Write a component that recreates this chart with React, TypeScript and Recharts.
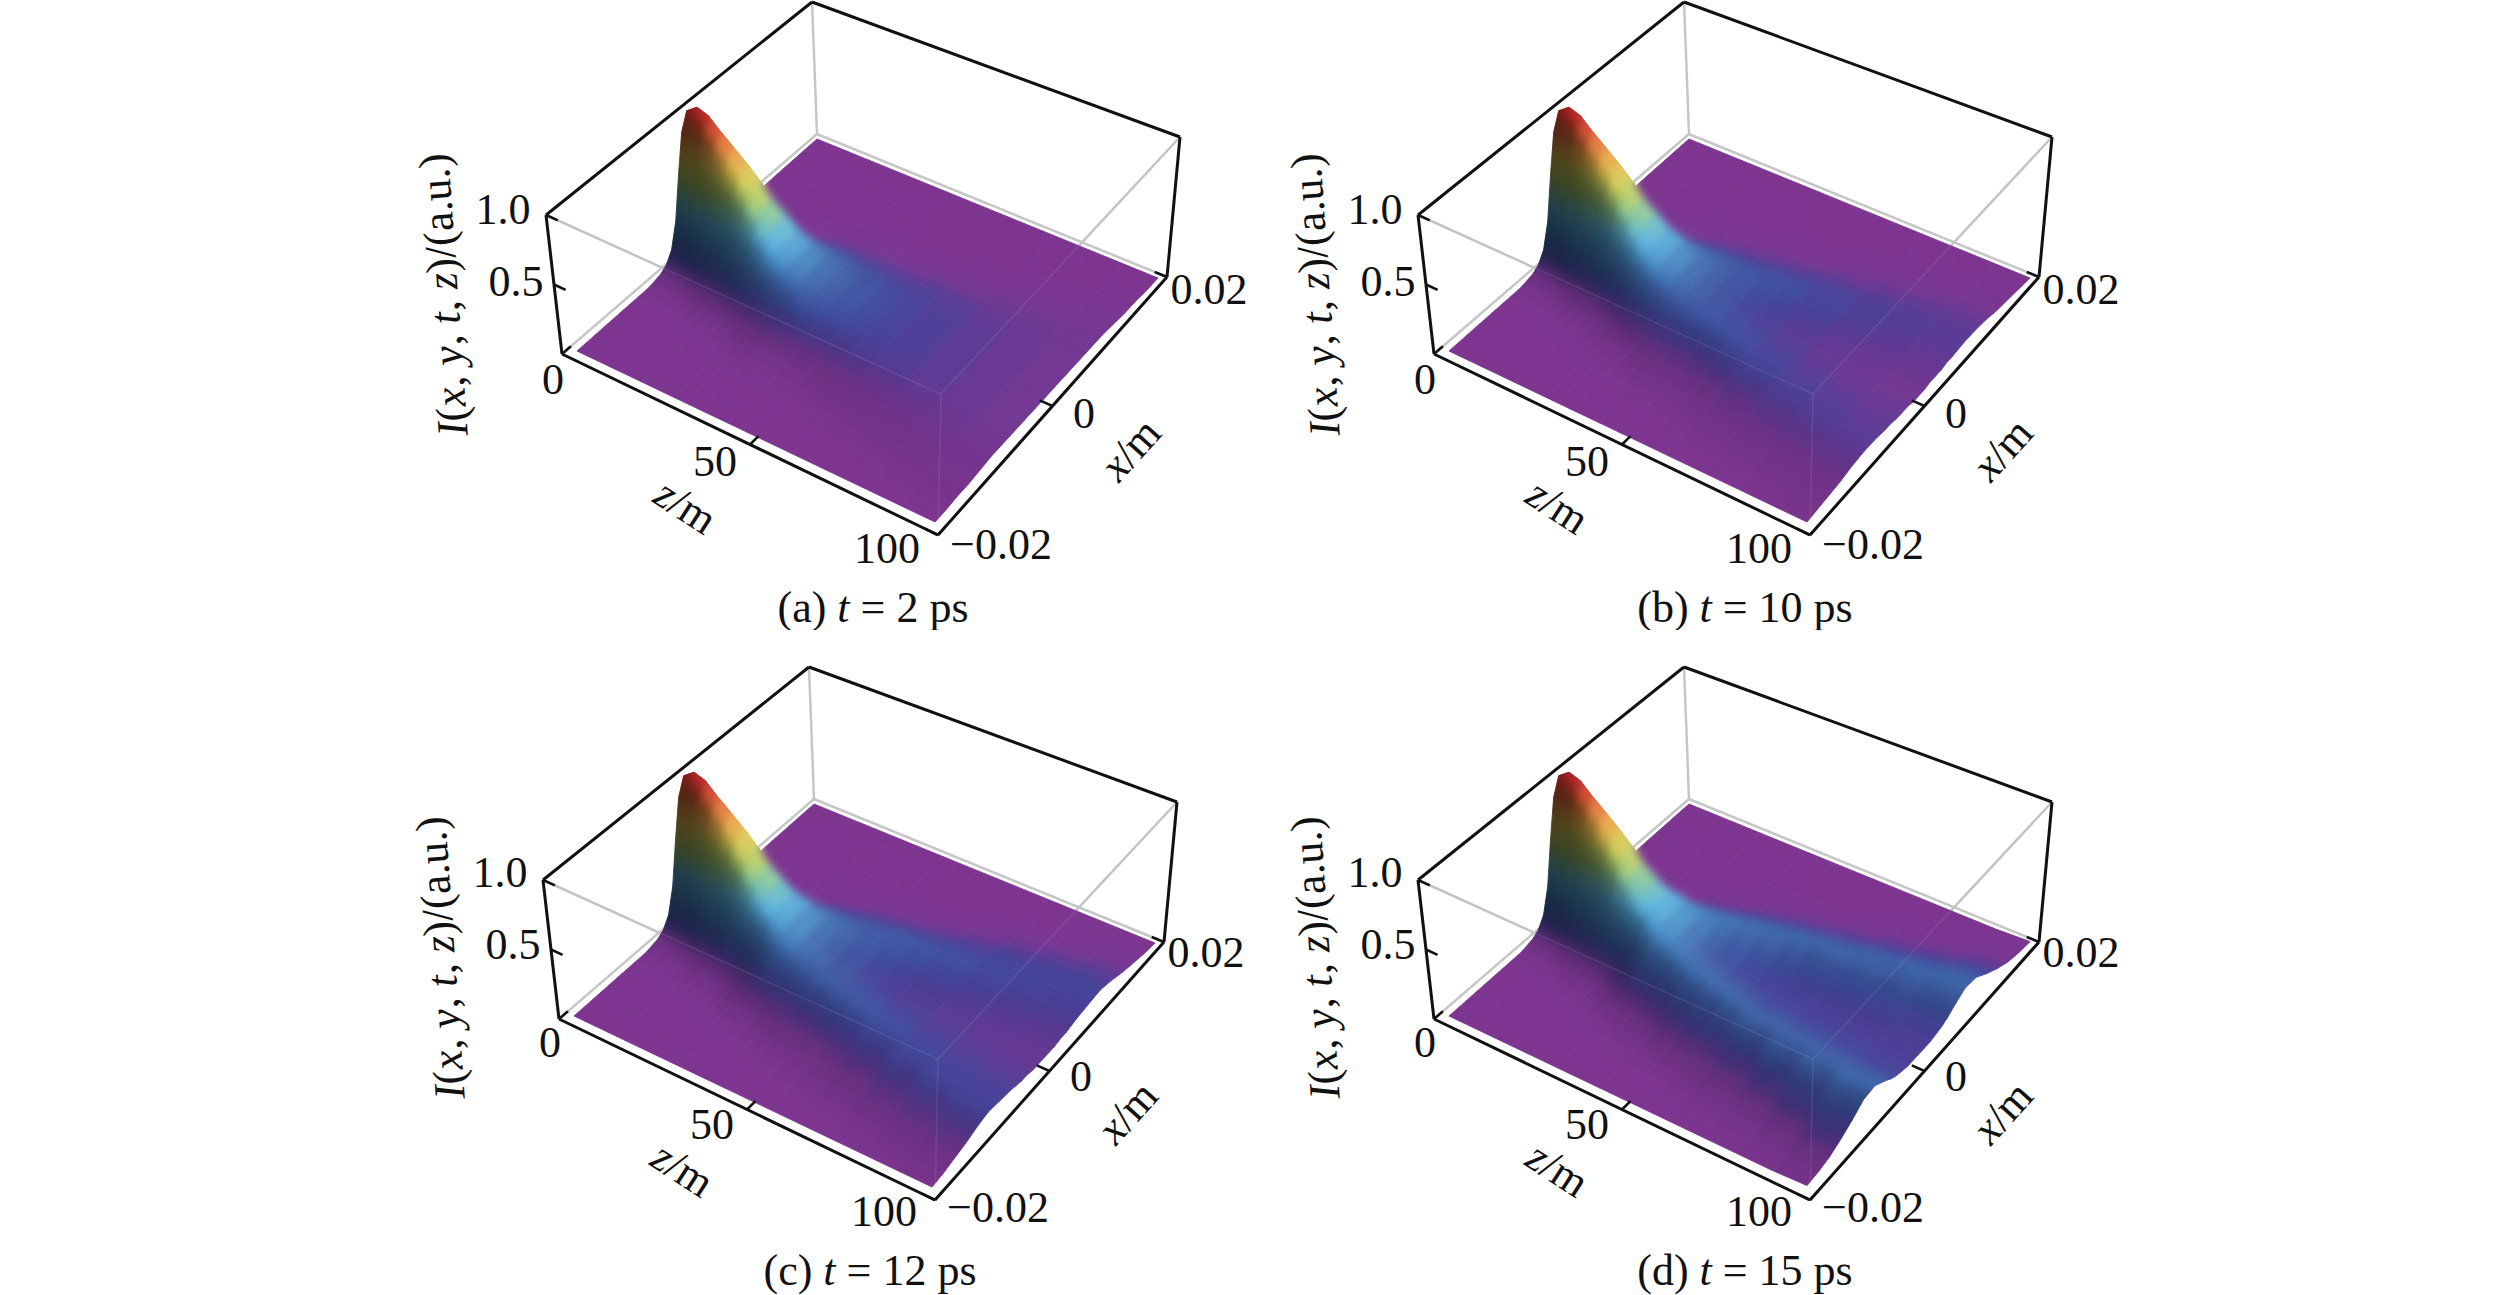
import { Scatter, ScatterChart, XAxis, YAxis } from "recharts";

const xHalf = [0, 0.001, 0.002, 0.003, 0.004, 0.005, 0.006, 0.008, 0.01, 0.012, 0.014, 0.016, 0.018, 0.02];
const zNear = [0, 3, 6, 9, 12, 15, 18, 21, 24];
const zFar = [27, 30, 34, 38, 42, 48, 54, 60, 70, 80, 90, 100];

const nearRows = [
  [99, 87, 59, 29, 12, 5, 2],
  [105, 90, 60, 31, 13, 5, 2],
  [102, 89, 62, 33, 15, 6, 2],
  [94, 84, 60, 34, 16, 7, 2],
  [85, 77, 57, 33, 17, 8, 3],
  [77, 70, 54, 33, 18, 9, 3, 1],
  [68, 62, 49, 32, 19, 10, 4, 1],
  [57, 53, 44, 31, 19, 11, 5, 1],
  [46, 44, 38, 28, 19, 12, 6, 1],
];

const farA = [
  [37, 36, 32, 25, 18, 12, 7, 2],
  [29, 28, 26, 22, 17, 12, 8, 2, 1],
  [23, 23, 21, 19, 16, 12, 8, 3, 1],
  [19, 19, 18, 16, 14, 11, 8, 3, 1],
  [16, 16, 15, 14, 12, 10, 8, 3, 1],
  [13, 13, 12, 12, 11, 9, 7, 3, 1],
  [11, 11, 11, 10, 9, 8, 7, 4, 2],
  [9, 9, 9, 9, 8, 8, 7, 4, 2, 1],
  [7, 7, 7, 7, 7, 6, 6, 4, 3, 1],
  [5, 5, 5, 5, 5, 5, 5, 4, 3, 2, 1],
  [4, 4, 4, 4, 4, 4, 4, 4, 3, 2, 1],
  [3, 3, 3, 3, 3, 3, 3, 3, 3, 2, 1, 1],
];
const farB = [
  [38, 37, 33, 26, 19, 13, 8, 2, 1],
  [30, 29, 27, 23, 18, 13, 9, 3, 1],
  [23, 23, 22, 20, 17, 14, 10, 4, 1],
  [18, 19, 19, 18, 16, 13, 10, 5, 2],
  [15, 16, 16, 16, 15, 13, 10, 5, 2, 1],
  [11, 12, 13, 14, 14, 13, 11, 6, 3, 1],
  [9, 10, 11, 12, 13, 13, 11, 7, 3, 1],
  [7, 8, 9, 10, 11, 12, 11, 8, 4, 2, 1],
  [5, 6, 6, 7, 8, 9, 9, 8, 5, 3, 1],
  [4, 5, 5, 5, 6, 7, 7, 8, 6, 4, 2, 1],
  [4, 4, 4, 5, 5, 6, 6, 7, 6, 4, 2, 1],
  [3, 3, 4, 4, 4, 5, 5, 6, 6, 5, 3, 2, 1],
];
const farC = [
  [39, 38, 34, 28, 21, 15, 9, 3, 1],
  [31, 30, 28, 25, 20, 15, 10, 3, 1],
  [23, 23, 23, 21, 19, 15, 11, 5, 1],
  [18, 19, 20, 20, 18, 15, 12, 6, 2],
  [15, 16, 17, 17, 17, 15, 13, 6, 3, 1],
  [11, 12, 13, 15, 16, 16, 14, 8, 3, 1],
  [9, 10, 11, 13, 14, 15, 14, 9, 4, 2],
  [8, 8, 9, 11, 12, 14, 14, 10, 5, 2, 1],
  [7, 7, 8, 9, 10, 11, 12, 11, 8, 4, 2],
  [5, 6, 6, 7, 8, 9, 10, 11, 9, 6, 3, 1],
  [5, 5, 6, 6, 7, 8, 9, 10, 10, 7, 4, 2, 1],
  [5, 5, 5, 6, 6, 7, 8, 9, 10, 8, 5, 3, 1],
];
const farD = [
  [40, 39, 36, 30, 23, 16, 10, 3, 1],
  [33, 32, 30, 27, 22, 17, 12, 4, 1],
  [25, 26, 26, 25, 22, 18, 13, 5, 2],
  [19, 20, 22, 23, 22, 19, 15, 7, 2, 1],
  [15, 17, 19, 21, 22, 20, 17, 9, 3, 1],
  [12, 13, 15, 18, 20, 20, 18, 11, 5, 2],
  [10, 11, 13, 15, 18, 20, 19, 13, 6, 3],
  [9, 10, 11, 13, 15, 18, 20, 15, 7, 3, 1],
  [9, 9, 10, 12, 14, 16, 18, 17, 10, 5, 2, 1],
  [8, 9, 10, 11, 13, 15, 18, 19, 13, 7, 3, 1],
  [8, 8, 9, 10, 11, 13, 16, 20, 16, 10, 5, 2, 1],
  [8, 8, 8, 9, 10, 12, 15, 20, 19, 13, 8, 4, 2, 1],
];

const zTicks = [0, 50, 100];
const xTicks = [-0.02, 0, 0.02];
const iTicks = [0.5, 1];
const zTickLabels = ["0", "50", "100"];
const xTickLabels = ["\u22120.02", "0", "0.02"];
const iTickLabels = ["0.5", "1.0"];
const captions = ["(a) ", "(b) ", "(c) ", "(d) "];
const times = ["2", "10", "12", "15"];

// page layout
const W = 900;
const H = 630;
const panelOffsets = [
  [0, 0],
  [872, 0],
  [-3, 665],
  [872, 665],
];
const textLift = [3, 3, 5, 5];
const ORIGIN_X = 400;
const FONT = 44;

// corners of the box, in page px of panel (a): [z=0 x-, z=100 x-, z=100 x+, z=0 x+]
const boxBottom = [[562, 354], [938, 535], [1167, 277], [817, 134]];
const boxTop = [[546, 215], [941, 394], [1180, 137], [812, 2]];
const floor = [[577, 351], [935, 522], [1158, 278], [817, 139]];

const zLabelPos = [[553, 382], [715, 464], [887, 551]];
const xLabelPos = [[1001, 547], [1084, 416], [1209, 292]];
const iLabelPos = [[516, 284], [503, 212]];

const bilerp = (c: number[][], u: number, v: number, k: number) =>
  (1 - u) * (1 - v) * c[0][k] + u * (1 - v) * c[1][k] + u * v * c[2][k] + (1 - u) * v * c[3][k];

// box position from fractions along z, x, height
const boxPoint = (u: number, v: number, w: number) => {
  const p = [0, 1].map((k) => bilerp(boxBottom, u, v, k) * (1 - w) + bilerp(boxTop, u, v, k) * w);
  return { sx: p[0] - ORIGIN_X, sy: p[1] };
};

const surfacePoint = (u: number, v: number, I: number) => {
  const p = [0, 1].map((k) => {
    const up = bilerp(boxTop, u, v, k) - bilerp(boxBottom, u, v, k);
    return bilerp(floor, u, v, k) + I * up;
  });
  return { sx: p[0] - ORIGIN_X, sy: p[1] };
};

const colorStops: number[][] = [
  [0, 125, 53, 144],
  [0.03, 118, 54, 146],
  [0.06, 92, 58, 148],
  [0.09, 72, 64, 152],
  [0.13, 62, 78, 158],
  [0.2, 62, 104, 172],
  [0.3, 75, 150, 205],
  [0.38, 90, 180, 222],
  [0.48, 125, 195, 165],
  [0.58, 175, 205, 105],
  [0.68, 215, 205, 85],
  [0.78, 235, 170, 70],
  [0.88, 228, 110, 55],
  [1, 205, 40, 40],
];

const colorOf = (I: number, g: number) => {
  let n = 1;
  while (n < colorStops.length - 1 && colorStops[n][0] < I) n++;
  const a = colorStops[n - 1];
  const b = colorStops[n];
  const t = Math.max(0, Math.min(1, (I - a[0]) / (b[0] - a[0])));
  let rgb = [1, 2, 3].map((k) => a[k] + (b[k] - a[k]) * t);
  if (g > 0) {
    // slope facing the viewer is in shade
    const s = 1 - 0.7 * (1 - Math.exp(-g / 4));
    rgb = rgb.map((c) => c * s);
  } else {
    const s = 0.12 * (1 - Math.exp(g / 4));
    rgb = rgb.map((c) => c + (255 - c) * s);
  }
  return `rgb(${rgb.map((c) => Math.round(c)).join(",")})`;
};

const xFull = [...xHalf.slice(1).reverse().map((x) => -x), ...xHalf];

function buildQuads(far: number[][], panel: number) {
  const zs = [...zNear, ...zFar];
  const rows = [...nearRows, ...far];
  const vs = xFull.map((x) => (x + 0.02) / 0.04);
  const grid = rows.map((row, i) =>
    xFull.map((x, j) => {
      const I = (row[xHalf.indexOf(Math.abs(x))] ?? 0) / 100;
      return { I, p: surfacePoint(zs[i] / 100, vs[j], I), g: 0 };
    }),
  );
  grid.forEach((row, i) =>
    row.forEach((c, j) => {
      const a = Math.max(0, j - 1);
      const b = Math.min(row.length - 1, j + 1);
      const i0 = Math.max(0, i - 1);
      const i1 = Math.min(grid.length - 1, i + 1);
      const gz = (grid[i1][j].I - grid[i0][j].I) / ((zs[i1] - zs[i0]) / 100);
      // light comes in from the far z end as well
      c.g = (row[b].I - row[a].I) / (vs[b] - vs[a]) + 1.8 * gz;
    }),
  );
  const quads: any[] = [];
  for (let i = 0; i < grid.length - 1; i++) {
    for (let j = xFull.length - 2; j >= 0; j--) {
      const c = [grid[i][j], grid[i][j + 1], grid[i + 1][j + 1], grid[i + 1][j]];
      const m0 = { x: (c[0].p.sx + c[3].p.sx) / 2, y: (c[0].p.sy + c[3].p.sy) / 2 };
      const m1 = { x: (c[1].p.sx + c[2].p.sx) / 2, y: (c[1].p.sy + c[2].p.sy) / 2 };
      const ex = c[3].p.sx - c[0].p.sx;
      const ey = c[3].p.sy - c[0].p.sy;
      const len = Math.hypot(ex, ey) || 1;
      const nx = -ey / len;
      const ny = ex / len;
      const d = (m1.x - m0.x) * nx + (m1.y - m0.y) * ny;
      const I0 = (c[0].I + c[3].I) / 2;
      const I1 = (c[1].I + c[2].I) / 2;
      const g0 = (c[0].g + c[3].g) / 2;
      const g1 = (c[1].g + c[2].g) / 2;
      quads.push({
        id: `q${panel}-${i}-${j}`,
        sx: c[0].p.sx,
        sy: c[0].p.sy,
        pts: c.map((q) => [q.p.sx, q.p.sy]),
        grad: [m0.x, m0.y, m0.x + nx * d, m0.y + ny * d],
        stops: [0, 0.25, 0.5, 0.75, 1].map((t) =>
          colorOf(I0 + (I1 - I0) * t, g0 + (g1 - g0) * t),
        ),
      });
    }
  }
  return quads;
}

const QuadShape = (props: any) => {
  const { cx, cy, payload } = props;
  const ox = cx - payload.sx;
  const oy = cy - payload.sy;
  const [x1, y1, x2, y2] = payload.grad;
  const d = payload.pts.map((p: number[], i: number) => `${i ? "L" : "M"}${p[0] + ox} ${p[1] + oy}`).join("") + "Z";
  const fill = `url(#${payload.id})`;
  return (
    <g>
      <linearGradient id={payload.id} gradientUnits="userSpaceOnUse" x1={x1 + ox} y1={y1 + oy} x2={x2 + ox} y2={y2 + oy}>
        {payload.stops.map((c: string, i: number) => (
          <stop key={i} offset={i / 4} stopColor={c} />
        ))}
      </linearGradient>
      <path d={d} fill={fill} stroke={fill} strokeWidth={0.9} />
    </g>
  );
};

const LabelShape = (props: any) => {
  const { cx, cy, payload } = props;
  return (
    <text
      x={cx}
      y={cy}
      textAnchor="middle"
      dominantBaseline="central"
      fontFamily="'Liberation Serif', serif"
      fontSize={FONT}
      fill="#111"
      transform={payload.rot ? `rotate(${payload.rot} ${cx} ${cy})` : undefined}
    >
      {payload.runs.map((r: [string, boolean], i: number) => (
        <tspan key={i} fontStyle={r[1] ? "italic" : "normal"}>
          {r[0]}
        </tspan>
      ))}
    </text>
  );
};

const noMark = () => <g />;

const Edge = (a: any, b: any, stroke: string, width: number, key: string, opacity = 1) => (
  <Scatter
    key={key}
    data={[a, b]}
    dataKey="sy"
    shape={noMark}
    line={{ stroke, strokeWidth: width, strokeOpacity: opacity }}
    isAnimationActive={false}
  />
);

const label = (pos: number[], text: string) => ({
  sx: pos[0] - ORIGIN_X,
  sy: pos[1],
  runs: [[text, false]],
});

const commonLabels = [
  ...zTickLabels.map((t, i) => label(zLabelPos[i], t)),
  ...xTickLabels.map((t, i) => label(xLabelPos[i], t)),
  ...iTickLabels.map((t, i) => label(iLabelPos[i], t)),
  { sx: 686 - ORIGIN_X, sy: 509, rot: 33, runs: [["z", true], ["/m", false]] },
  { sx: 1130 - ORIGIN_X, sy: 452, rot: -48, runs: [["x", true], ["/m", false]] },
  {
    sx: 443 - ORIGIN_X,
    sy: 298,
    rot: -94,
    runs: [["I", true], ["(", false], ["x", true], [", ", false], ["y", true], [", ", false], ["t", true], [", ", false], ["z", true], [")/(a.u.)", false]],
  },
];

const GRAY = "#c6c6c6";
const farSets = [farA, farB, farC, farD];

function Panel({ index }: { index: number }) {
  const [dx, dy] = panelOffsets[index];
  const lift = textLift[index];
  const labels = [
    ...commonLabels,
    {
      sx: 873 - ORIGIN_X,
      sy: 610,
      runs: [[captions[index], false], ["t", true], [` = ${times[index]} ps`, false]],
    },
  ].map((l) => ({ ...l, sy: l.sy - lift }));
  const quads = buildQuads(farSets[index], index);
  const p = boxPoint;
  return (
    <div style={{ position: "absolute", left: ORIGIN_X + dx, top: dy, width: W, height: H }}>
      <ScatterChart width={W} height={H} margin={{ top: 0, right: 0, bottom: 0, left: 0 }}>
        <XAxis type="number" dataKey="sx" domain={[0, W]} hide />
        <YAxis type="number" dataKey="sy" domain={[0, H]} reversed hide />
        {Edge(p(0, 1, 0), p(0, 1, 1), GRAY, 2.5, "b1")}
        {Edge(p(0, 1, 0), p(0, 0, 0), GRAY, 2.5, "b2")}
        {Edge(p(0, 1, 0), p(1, 1, 0), GRAY, 2.5, "b3")}
        {Edge(p(0, 0, 1), p(1, 0, 1), GRAY, 2.5, "b4")}
        {Edge(p(1, 1, 1), p(1, 0, 1), GRAY, 2.5, "b5")}
        <Scatter className="surface" data={quads} dataKey="sy" shape={QuadShape} isAnimationActive={false} />
        {Edge(p(0, 0, 1), p(1, 0, 1), "#b8b8d0", 1.5, "f1", 0.15)}
        {Edge(p(1, 1, 1), p(1, 0, 1), "#b8b8d0", 1.5, "f2", 0.15)}
        {Edge(p(1, 0, 0), p(1, 0, 1), "#b8b8d0", 1.5, "f3", 0.15)}
        {Edge(p(0, 0, 1), p(0, 1, 1), "#111", 3, "k1")}
        {Edge(p(0, 1, 1), p(1, 1, 1), "#111", 3, "k2")}
        {Edge(p(0, 0, 0), p(0, 0, 1), "#111", 3, "k3")}
        {Edge(p(0, 0, 0), p(1, 0, 0), "#111", 3, "k4")}
        {Edge(p(1, 0, 0), p(1, 1, 0), "#111", 3, "k5")}
        {Edge(p(1, 1, 0), p(1, 1, 1), "#111", 3, "k6")}
        {zTicks.map((z) => Edge(p(z / 100, 0, 0), p(z / 100, 0.035, 0), "#111", 2.5, `tz${z}`))}
        {xTicks.map((x) => Edge(p(1, (x + 0.02) / 0.04, 0), p(0.965, (x + 0.02) / 0.04, 0), "#111", 2.5, `tx${x}`))}
        {iTicks.map((w) => Edge(p(0, 0, w), p(0.03, 0, w), "#111", 2.5, `ti${w}`))}
        <Scatter data={labels} dataKey="sy" shape={LabelShape} isAnimationActive={false} />
      </ScatterChart>
    </div>
  );
}

export default function App() {
  return (
    <div style={{ position: "absolute", left: 0, top: 0, width: 2519, height: 1295, background: "#fff", overflow: "hidden" }}>
      <style>{`.surface { filter: url(#smooth); }`}</style>
      <svg width={0} height={0} style={{ position: "absolute" }}>
        <filter id="smooth" x="-5%" y="-5%" width="110%" height="110%" colorInterpolationFilters="sRGB">
          <feGaussianBlur in="SourceGraphic" stdDeviation={4.5} result="soft" />
          <feComponentTransfer in="soft" result="solid">
            <feFuncA type="linear" slope={30} />
          </feComponentTransfer>
          <feComposite in="solid" in2="SourceAlpha" operator="in" />
        </filter>
      </svg>
      {panelOffsets.map((_, i) => (
        <Panel key={i} index={i} />
      ))}
    </div>
  );
}
